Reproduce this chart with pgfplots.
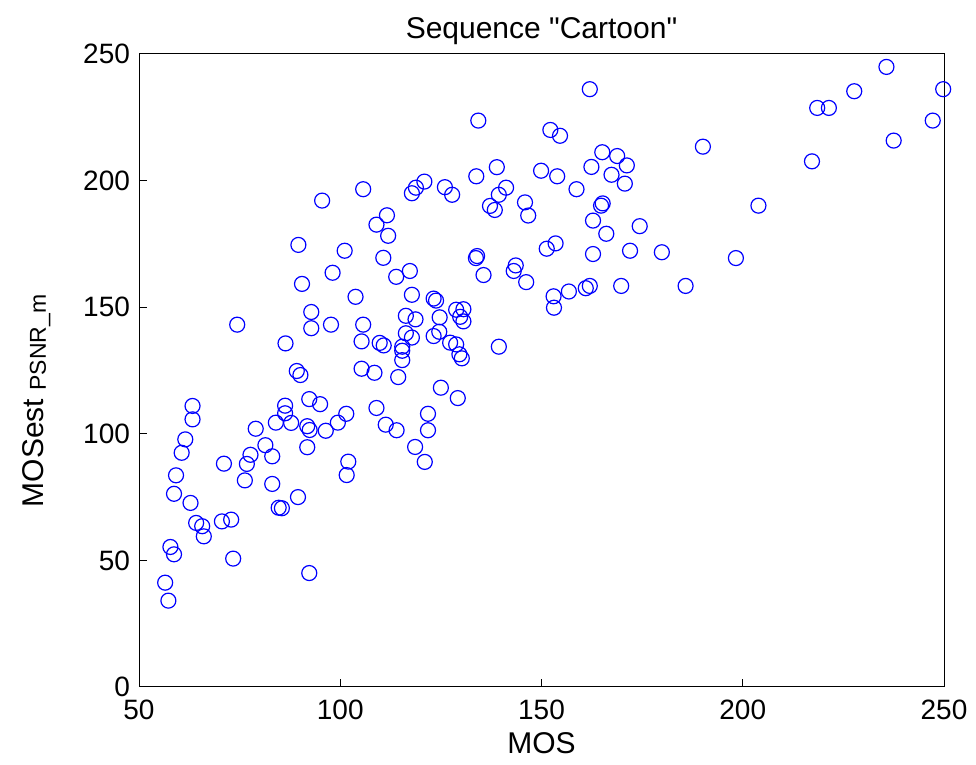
\documentclass[border=0pt]{standalone}
\usepackage{pgfplots}
\pgfplotsset{compat=1.18}
\usepackage{fontspec}
\setmainfont{Liberation Sans}
% same face without the TeX quote mapping, so " stays a straight quote
\newfontfamily\plainfont{Liberation Sans}[Ligatures=TeXOff]

\definecolor{mblue}{RGB}{0,0,255}

\begin{document}
\begin{tikzpicture}
\useasboundingbox (0,0) rectangle (488pt,382.5pt);
\begin{axis}[
  at={(69.5pt,39pt)}, anchor=south west,
  width=402.5pt, height=316.5pt, scale only axis,
  xmin=50, xmax=250, ymin=0, ymax=250,
  xtick={50,100,...,250}, ytick={0,50,...,250},
  tick align=inside, tick pos=left,
  major tick length=4pt,
  tick style={black, line width=0.5pt},
  axis line style={black, line width=0.5pt},
  ticklabel style={font=\fontsize{14}{16}\selectfont},
  xticklabel style={yshift=-3pt},
  yticklabel style={xshift=-1pt},
  /pgf/number format/assume math mode=true,
  clip=false,
  every axis title/.style={at={(axis description cs:0.5,1)}, anchor=base, yshift=7.5pt,
    font=\plainfont\fontsize{15}{18}\selectfont},
  every axis x label/.style={at={(axis description cs:0.5,0)}, anchor=base, yshift=-33.5pt,
    font=\fontsize{15}{18}\selectfont},
  every axis y label/.style={at={([xshift=-48pt]axis description cs:0,0.452)}, rotate=90, anchor=base,
    font=\fontsize{15}{18}\selectfont},
  title={Sequence "Cartoon"},
  xlabel={MOS},
  ylabel={MOSest\ \raisebox{-1.5pt}{\fontsize{11.5}{13}\selectfont PSNR\_m}},
]
\addplot[only marks, mark=o, mark size=3.75pt, mark options={mblue, line width=0.6pt}] coordinates {
(89.2,124.8) (90.1,123.2) (63.3,111.0) (63.3,105.7) (92.3,113.7) (95.0,111.7)
(86.3,111.1) (86.3,108.1) (61.5,97.8) (60.6,92.5) (79.0,102.0) (84.0,104.4)
(87.8,104.3) (91.8,103.0) (92.4,101.5) (96.4,101.2) (99.4,104.4) (81.4,95.5)
(83.1,91.1) (77.7,91.7) (76.8,88.1) (71.1,88.2) (91.8,94.7) (59.2,83.6)
(58.7,76.3) (76.3,81.6) (83.1,80.2) (62.8,72.7) (89.5,75.0) (84.7,70.8)
(85.5,70.6) (64.2,64.8) (65.7,63.5) (66.1,59.5) (70.6,65.4) (72.9,66.1)
(57.8,55.3) (58.7,52.4) (73.4,50.7) (56.5,41.2) (57.3,34.1) (92.3,45.0)
(101.5,107.9) (109.0,110.2) (111.3,103.6) (114.0,101.4) (121.8,107.9) (121.8,101.4)
(118.6,94.8) (121.0,88.9) (102.0,89.0) (101.6,83.7) (125.0,118.2) (129.2,114.1)
(105.7,196.6) (95.5,192.1) (111.6,186.3) (109.0,182.6) (111.9,178.2) (89.6,174.6)
(101.1,172.3) (110.7,169.5) (98.1,163.6) (90.5,159.2) (103.8,154.1) (92.8,148.1)
(74.4,143.1) (92.8,141.7) (97.7,143.1) (105.7,143.1) (86.4,135.7) (105.3,136.5)
(109.8,135.9) (110.8,134.9) (105.3,125.7) (108.5,124.1) (113.9,162.0)
(138.9,205.3) (149.9,203.9) (153.9,201.7) (133.8,201.7) (120.9,199.6) (118.8,197.2)
(117.8,195.0) (126.0,197.4) (127.8,194.4) (141.2,197.2) (139.4,194.4) (137.2,190.0)
(138.4,188.4) (145.9,191.4) (146.7,186.2) (134.0,170.2) (133.7,169.4) (151.3,173.1)
(153.5,175.2) (117.3,164.3) (135.6,162.7) (143.6,166.5) (143.1,164.3) (146.2,159.9)
(117.8,154.9) (123.2,153.4) (123.8,152.6) (153.0,154.3) (153.1,149.8) (116.3,146.6)
(118.7,145.2) (124.7,146.0) (128.8,149.0) (130.6,149.2) (129.8,146.2) (130.6,144.4)
(116.3,139.7) (117.8,138.0) (115.4,134.4) (115.4,132.8) (123.2,138.6) (124.6,140.3)
(127.3,136.0) (128.8,135.3) (129.6,131.4) (130.2,129.8) (139.4,134.4) (115.4,129.1)
(114.4,122.4)
(162.0,236.1) (134.3,223.7) (152.2,220.0) (154.6,217.7) (190.1,213.4) (165.1,211.2)
(168.8,209.7) (171.2,206.0) (162.4,205.4) (167.4,202.3) (170.7,198.8) (158.7,196.6)
(165.2,191.0) (164.8,190.1) (162.8,184.2) (166.1,179.0) (174.4,182.0) (172.0,172.3)
(179.9,171.7) (162.8,171.0) (156.8,156.2) (161.0,157.5) (162.0,158.4) (169.8,158.4)
(185.8,158.4)
(235.7,244.9) (249.8,236.1) (227.7,235.3) (218.5,228.7) (221.4,228.7) (247.2,223.7)
(237.5,215.8) (217.2,207.6) (203.9,190.1) (198.3,169.4)
};
\end{axis}
\end{tikzpicture}
\end{document}
